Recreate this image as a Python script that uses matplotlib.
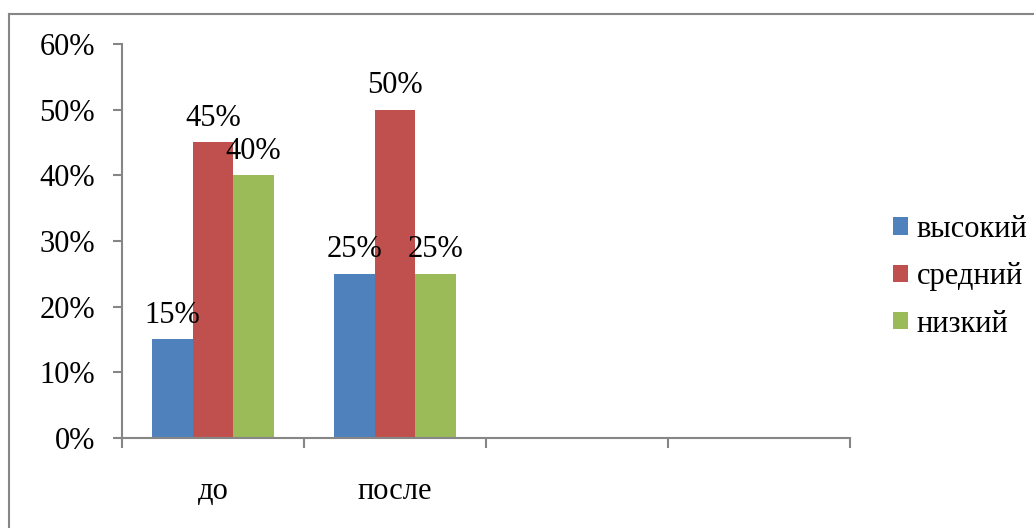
import matplotlib
matplotlib.use("Agg")
import matplotlib.pyplot as plt
import numpy as np
from matplotlib.lines import Line2D
from matplotlib.patches import Patch

categories = ["до", "после", "", ""]
series_names = ["высокий", "средний", "низкий"]
vysokiy = [15, 25, None, None]
sredniy = [45, 50, None, None]
nizkiy = [40, 25, None, None]
colors = ["#4F81BD", "#C0504D", "#9BBB59"]
yticks = [0, 10, 20, 30, 40, 50, 60]

plt.rcParams['font.family'] = ['Liberation Serif', 'DejaVu Serif']
FS = 22
fig = plt.figure(figsize=(10.34, 5.28), dpi=100)
ax = fig.add_axes([0.118, 0.1705, 0.704, 0.7462])

x = np.arange(len(categories))
bw = 0.222
for i, (vals, col) in enumerate(zip([vysokiy, sredniy, nizkiy], colors)):
    xs = [xi + (i - 1) * bw for xi, v in zip(x, vals) if v is not None]
    vs = [v for v in vals if v is not None]
    ax.bar(xs, vs, width=bw, color=col, label=series_names[i], zorder=2)
    for xx, vv in zip(xs, vs):
        ax.annotate(f"{vv}%", (xx, vv), xytext=(0, 7), textcoords="offset points",
                    ha="center", va="bottom", fontsize=FS, color="black")

ax.set_xlim(-0.5, len(categories) - 0.5)
ax.set_ylim(0, 60)
ax.set_yticks(yticks)
ax.set_yticklabels([f"{t}%" for t in yticks], fontsize=FS)
ax.set_xticks(np.arange(-0.5, len(categories)), minor=False)
ax.set_xticklabels([])
ax.set_xticks(x, minor=True)
ax.set_xticklabels(categories, minor=True, fontsize=FS)
ax.tick_params(axis='x', which='major', length=7.2, color="#868686", width=1.5, direction="out")
ax.tick_params(axis='x', which='minor', length=0, pad=28)
ax.tick_params(axis='y', length=6.5, color="#868686", width=1.5, pad=13)
for s in ["top", "right"]:
    ax.spines[s].set_visible(False)
for s in ["left", "bottom"]:
    ax.spines[s].set_color("#868686")
    ax.spines[s].set_linewidth(1.5)

handles = [Patch(facecolor=c, edgecolor="none") for c in colors]
fig.legend(handles, series_names, loc="upper left", bbox_to_anchor=(0.849, 0.622),
           frameon=False, fontsize=FS, handlelength=0.48, handleheight=0.48,
           handletextpad=0.3, labelspacing=0.6, borderpad=0)

# outer frame (top and left visible)
fig.add_artist(Line2D([9 / 1034, 1.0], [1 - 14 / 528, 1 - 14 / 528], color="#868686", lw=1.5, transform=fig.transFigure))
fig.add_artist(Line2D([9 / 1034, 9 / 1034], [0, 1 - 14 / 528], color="#868686", lw=1.5, transform=fig.transFigure))

fig.savefig("out.png", dpi=100)
